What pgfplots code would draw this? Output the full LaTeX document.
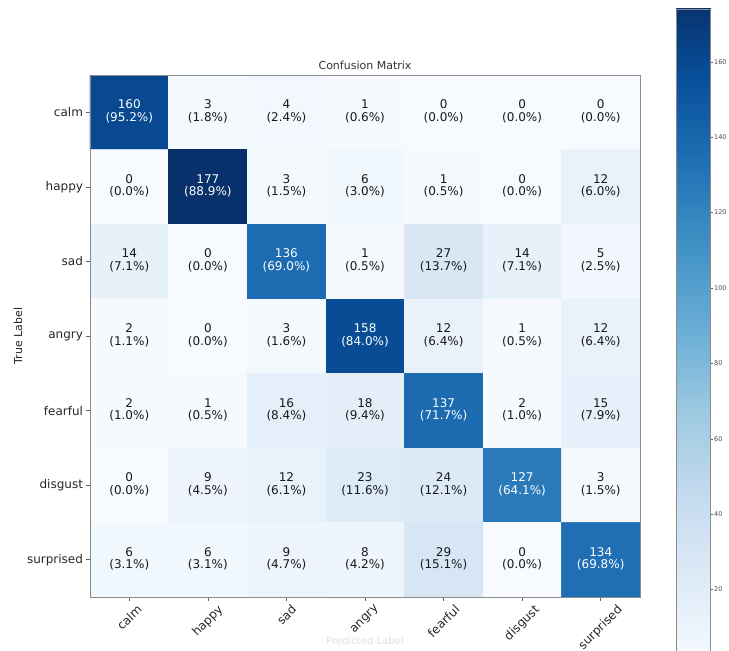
\documentclass[border=0pt]{standalone}
\usepackage{pgfplots}
\usepackage{pgfplotstable}
\pgfplotsset{compat=1.18}
\usepackage{fontspec}
\setmainfont{DejaVu Sans}
\usepackage{graphicx}

% off-diagonal cells (black text): count c, percentage p
\pgfplotstableread{
x y c p
1 0 3 1.8
2 0 4 2.4
3 0 1 0.6
4 0 0 0.0
5 0 0 0.0
6 0 0 0.0
0 1 0 0.0
2 1 3 1.5
3 1 6 3.0
4 1 1 0.5
5 1 0 0.0
6 1 12 6.0
0 2 14 7.1
1 2 0 0.0
3 2 1 0.5
4 2 27 13.7
5 2 14 7.1
6 2 5 2.5
0 3 2 1.1
1 3 0 0.0
2 3 3 1.6
4 3 12 6.4
5 3 1 0.5
6 3 12 6.4
0 4 2 1.0
1 4 1 0.5
2 4 16 8.4
3 4 18 9.4
5 4 2 1.0
6 4 15 7.9
0 5 0 0.0
1 5 9 4.5
2 5 12 6.1
3 5 23 11.6
4 5 24 12.1
6 5 3 1.5
0 6 6 3.1
1 6 6 3.1
2 6 9 4.7
3 6 8 4.2
4 6 29 15.1
5 6 0 0.0
}\offd

% diagonal cells (white text)
\pgfplotstableread{
x y c p
0 0 160 95.2
1 1 177 88.9
2 2 136 69.0
3 3 158 84.0
4 4 137 71.7
5 5 127 64.1
6 6 134 69.8
}\diag

% full matrix for the heatmap
\pgfplotstableread{
x y c
0 0 160
1 0 3
2 0 4
3 0 1
4 0 0
5 0 0
6 0 0
0 1 0
1 1 177
2 1 3
3 1 6
4 1 1
5 1 0
6 1 12
0 2 14
1 2 0
2 2 136
3 2 1
4 2 27
5 2 14
6 2 5
0 3 2
1 3 0
2 3 3
3 3 158
4 3 12
5 3 1
6 3 12
0 4 2
1 4 1
2 4 16
3 4 18
4 4 137
5 4 2
6 4 15
0 5 0
1 5 9
2 5 12
3 5 23
4 5 24
5 5 127
6 5 3
0 6 6
1 6 6
2 6 9
3 6 8
4 6 29
5 6 0
6 6 134
}\cm

\pgfplotsset{
  colormap={blues}{rgb255=(247,251,255) rgb255=(222,235,247) rgb255=(198,219,239) rgb255=(158,202,225) rgb255=(107,174,214) rgb255=(66,146,198) rgb255=(33,113,181) rgb255=(8,81,156) rgb255=(8,48,107)},
  cntlab/.style={draw=none, mark=none, point meta=explicit symbolic,
    nodes near coords={\pgfplotspointmeta},
    nodes near coords style={anchor=base, yshift=3.5pt, text=#1, font=\fontsize{12}{13}\selectfont}},
  pctlab/.style={draw=none, mark=none, point meta=explicit symbolic,
    nodes near coords={(\pgfplotspointmeta\%)},
    nodes near coords style={anchor=base, yshift=-9pt, text=#1, font=\fontsize{12}{13}\selectfont}},
}

\begin{document}
\begin{tikzpicture}
\useasboundingbox (0,0) rectangle (729pt,651pt);
\clip (0,0) rectangle (729pt,651pt);
\begin{axis}[
  at={(90pt,54pt)}, anchor=south west,
  scale only axis, width=550pt, height=522pt,
  xmin=-0.5, xmax=6.5, ymin=-0.5, ymax=6.5, y dir=reverse,
  enlargelimits=false, axis on top,
  colormap name=blues,
  point meta min=0, point meta max=177,
  xtick={0,...,6}, ytick={0,...,6},
  xticklabels={\rotatebox{45}{calm},\rotatebox{45}{happy},\rotatebox{45}{sad},\rotatebox{45}{angry},\rotatebox{45}{fearful},\rotatebox{45}{disgust},\rotatebox{45}{surprised}},
  yticklabels={calm,happy,sad,angry,fearful,disgust,surprised},
  tick align=outside, major tick length=3.5pt,
  xtick pos=bottom, ytick pos=left,
  tick style={black!60, line width=0.6pt},
  axis line style={black!45, line width=0.6pt},
  tick label style={font=\fontsize{12}{14}\selectfont, text=black!85},
  title={Confusion Matrix},
  title style={font=\fontsize{11}{13}\selectfont, text=black!80, yshift=-4pt},
  ylabel={True Label},
  ylabel style={at={(axis description cs:0,0.5)}, anchor=center, rotate=0, yshift=72pt, font=\fontsize{11}{13}\selectfont, text=black!85},
  xlabel={Predicted Label},
  xlabel style={at={(axis description cs:0.5,0)}, anchor=center, yshift=-44pt, font=\fontsize{10}{12}\selectfont, text=black!12},
]
\addplot[matrix plot*, mesh/cols=7, point meta=explicit] table[x=x, y=y, meta=c]{\cm};
\addplot[cntlab=black!90] table[x=x, y=y, meta=c]{\offd};
\addplot[pctlab=black!90] table[x=x, y=y, meta=p]{\offd};
\addplot[cntlab=white] table[x=x, y=y, meta=c]{\diag};
\addplot[pctlab=white] table[x=x, y=y, meta=p]{\diag};
\end{axis}
% colour bar
\begin{axis}[
  at={(676pt,-14pt)}, anchor=south west,
  scale only axis, width=34pt, height=656pt,
  xmin=0, xmax=1, ymin=0, ymax=174,
  enlargelimits=false, axis on top,
  colormap name=blues,
  point meta min=0, point meta max=177,
  xtick=\empty,
  ytick={20,40,...,160},
  ytick pos=right, yticklabel pos=right,
  tick align=outside, major tick length=2.5pt,
  tick style={black!60, line width=0.5pt},
  axis line style={black!45, line width=0.6pt},
  yticklabel style={font=\fontsize{6.5}{7}\selectfont, text=black!70, inner sep=1.5pt},
  /pgf/number format/assume math mode=true,
]
\addplot[surf, shader=interp, mesh/rows=2, point meta=explicit]
  table[x=x, y=y, meta=y]{
x y
0 0
1 0
0 177
1 177
};
\end{axis}
\end{tikzpicture}
\end{document}
